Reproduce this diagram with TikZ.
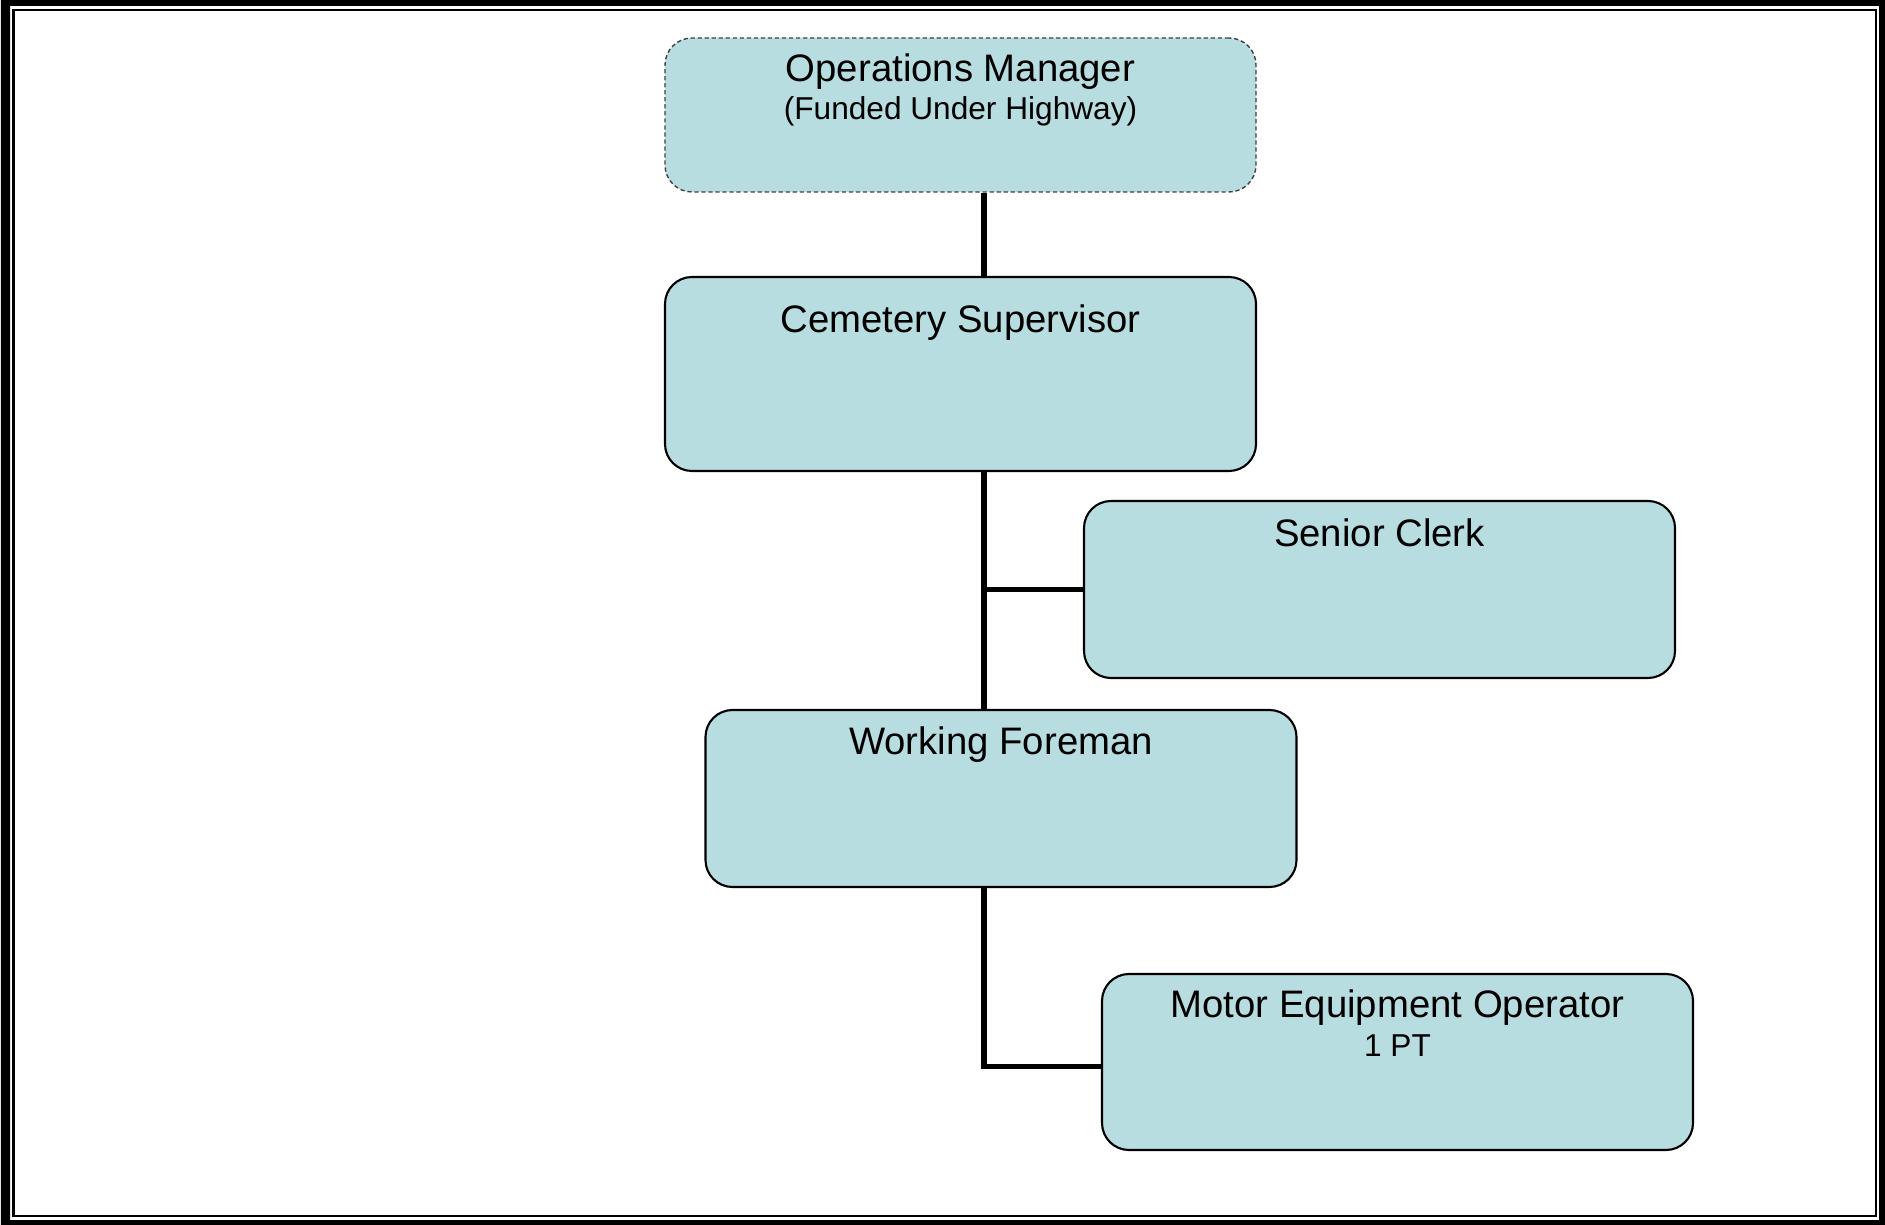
\documentclass[tikz,border=0pt]{standalone}
\usepackage{fontspec}
\setmainfont{Liberation Sans}
\definecolor{boxfill}{RGB}{184,221,224}

\begin{document}
\begin{tikzpicture}[
    box/.style={draw=black, line width=0.6pt, fill=boxfill, rounded corners=0.27cm,
      minimum width=5.91cm, inner sep=0pt},
    title/.style={anchor=base, inner sep=0pt, font=\fontsize{10.9}{13}\selectfont},
    note/.style={anchor=base, inner sep=0pt, font=\fontsize{9}{11}\selectfont},
    link/.style={line width=1.6pt}
  ]
    \useasboundingbox (0,0) rectangle (18.85,-12.25);

    % Page border: thick outside, thin inside
    \fill[black, even odd rule] (0.01,0) rectangle (18.85,-12.25)
      (0.10,-0.06) rectangle (18.79,-12.20);
    \draw[line width=0.025cm] (0.135,-0.10) rectangle (18.76,-12.16);

    % Boxes
    \node[box, minimum height=1.54cm, draw=black!75, line width=0.4pt,
      dash pattern=on 1.2pt off 0.8pt] (ops) at (9.605,-1.15) {};
    \node[box, minimum height=1.94cm] (sup) at (9.605,-3.74) {};
    \node[box, minimum height=1.77cm] (clerk) at (13.795,-5.895) {};
    \node[box, minimum height=1.77cm] (fore) at (10.01,-7.985) {};
    \node[box, minimum height=1.76cm] (motor) at (13.975,-10.62) {};

    % Titles
    \node[title] (ops-t) at (9.605,-0.817) {Operations Manager};
    \node[note] (ops-n) at (9.605,-1.20) {(Funded Under Highway)};
    \node[title] (sup-t) at (9.605,-3.327) {Cemetery Supervisor};
    \node[title] (clerk-t) at (13.795,-5.467) {Senior Clerk};
    \node[title] (fore-t) at (10.01,-7.55) {Working Foreman};
    \node[title] (motor-t) at (13.975,-10.18) {Motor Equipment Operator};
    \node[note] (motor-n) at (13.975,-10.567) {1 PT};

    % Reporting lines
    \coordinate (trunk) at (9.84,0);
    \draw[link] (ops.south -| trunk) -- (sup.north -| trunk);
    \draw[link] (sup.south -| trunk) -- (fore.north -| trunk);
    \draw[link] (clerk.west -| trunk) -- (clerk.west);
    \draw[link] (fore.south -| trunk) |- ([yshift=-0.045cm]motor.west);
\end{tikzpicture}
\end{document}
